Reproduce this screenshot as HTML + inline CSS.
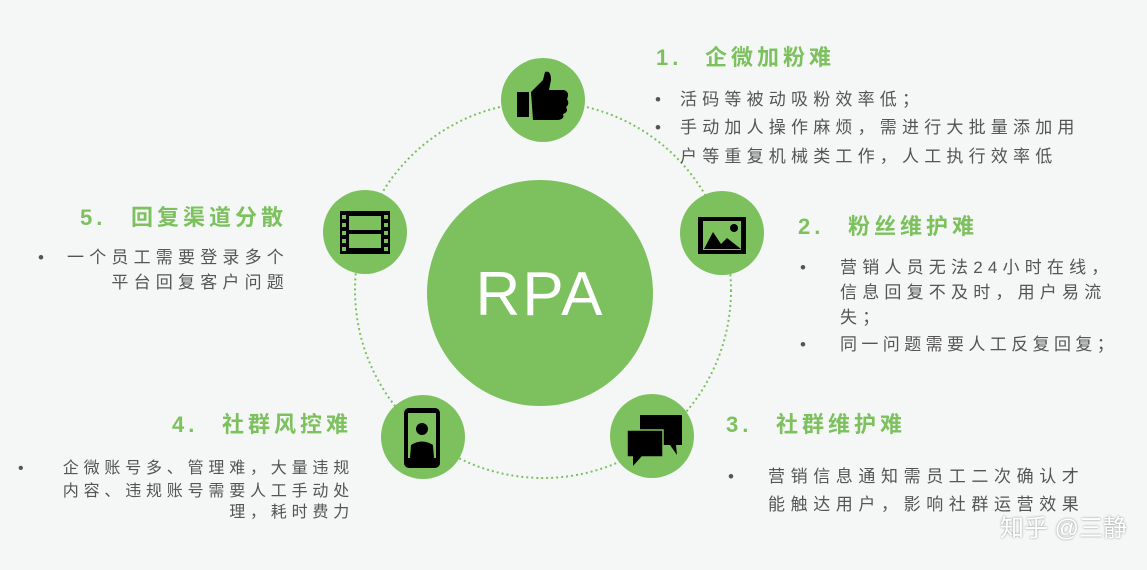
<!DOCTYPE html>
<html><head><meta charset="utf-8"><style>
body{margin:0;width:1147px;height:570px;background:#f5f7f6;position:relative;overflow:hidden;font-family:"Liberation Sans","Noto Sans CJK SC",sans-serif}
.t{position:absolute;white-space:nowrap}
.h{color:#7cc15e;font-weight:bold;font-size:22px;letter-spacing:4px;line-height:26px}
.b{color:#555;font-size:17px;letter-spacing:5.2px;line-height:22px}
.s{font-size:16px;letter-spacing:4.8px}
.w{letter-spacing:5.6px}
</style></head><body>
<svg width="1147" height="570" style="position:absolute;left:0;top:0">
<circle cx="543" cy="290" r="188" fill="none" stroke="#7cc15e" stroke-width="2" stroke-dasharray="2,3"/>
<circle cx="540" cy="293" r="113" fill="#7cc15e"/>
<text x="540" y="315" font-family="Liberation Sans" font-size="62" fill="#fff" text-anchor="middle" letter-spacing="2">RPA</text>
<g fill="#7cc15e"><circle cx="543" cy="100" r="42"/><circle cx="722" cy="233" r="42"/><circle cx="652" cy="436" r="42"/><circle cx="423" cy="437" r="42"/><circle cx="365" cy="232" r="42"/></g>
<rect x="517" y="92" width="12" height="25" fill="#000"/>
<path d="M531 92 L543 80 L545 72 Q551 70 551 80 L549 90 L564 90 Q570 92 567 99 Q570 104 566 107 Q569 112 563 114 Q565 119 558 120 L533 120 Z" fill="#000"/>
<rect x="698" y="217" width="48" height="37" fill="#000"/>
<rect x="703" y="221" width="38" height="29" fill="#7cc15e"/>
<path d="M704 249 L713 232 L721 244 L727 238 L741 249 Z" fill="#000"/>
<circle cx="734" cy="228" r="4" fill="#000"/>
<rect x="640" y="415" width="42" height="30" fill="#000"/>
<path d="M670 445 L677 455 L676 445 Z" fill="#000"/>
<rect x="627" y="430" width="36" height="27" fill="#000" stroke="#7cc15e" stroke-width="1.5"/>
<path d="M633 456 L633 466 L642 456 Z" fill="#000"/>
<rect x="404" y="408" width="36" height="60" rx="5" fill="#000"/>
<rect x="408" y="413" width="28" height="45" fill="#7cc15e"/>
<circle cx="422" cy="429" r="6" fill="#000"/>
<path d="M410 458 L411 445 Q422 438 433 445 L434 458 Z" fill="#000"/>
<rect x="340" y="211" width="50" height="43" fill="#000"/>
<rect x="349" y="216" width="32" height="14" fill="#7cc15e"/>
<rect x="349" y="234" width="32" height="14" fill="#7cc15e"/>
<g fill="#7cc15e"><rect x="342" y="215" width="4" height="4"/><rect x="342" y="223" width="4" height="4"/><rect x="342" y="231" width="4" height="4"/><rect x="342" y="239" width="4" height="4"/><rect x="342" y="247" width="4" height="4"/><rect x="384" y="215" width="4" height="4"/><rect x="384" y="223" width="4" height="4"/><rect x="384" y="231" width="4" height="4"/><rect x="384" y="239" width="4" height="4"/><rect x="384" y="247" width="4" height="4"/></g>
</svg>

<div class="t h" style="left:656px;top:45px">1.</div><div class="t h" style="left:705px;top:45px">企微加粉难</div>
<div class="t b" style="left:655px;top:89px">•</div><div class="t b" style="left:680px;top:89px">活码等被动吸粉效率低；</div>
<div class="t b" style="left:655px;top:117px">•</div><div class="t b" style="left:680px;top:117px">手动加人操作麻烦，需进行大批量添加用</div>
<div class="t b" style="left:680px;top:146px">户等重复机械类工作，人工执行效率低</div>

<div class="t h" style="left:798px;top:214px">2.</div><div class="t h" style="left:848px;top:214px">粉丝维护难</div>
<div class="t b" style="left:800px;top:257px">•</div><div class="t b" style="left:840px;top:257px">营销人员无法24小时在线，</div>
<div class="t b" style="left:840px;top:282px">信息回复不及时，用户易流</div>
<div class="t b" style="left:840px;top:307px">失；</div>
<div class="t b" style="left:800px;top:334px">•</div><div class="t b" style="left:840px;top:334px;letter-spacing:4.4px">同一问题需要人工反复回复；</div>

<div class="t h" style="left:726px;top:412px">3.</div><div class="t h" style="left:776px;top:412px">社群维护难</div>
<div class="t b" style="left:728px;top:466px">•</div><div class="t b w" style="left:768px;top:466px">营销信息通知需员工二次确认才</div>
<div class="t b w" style="left:768px;top:494px">能触达用户，影响社群运营效果</div>

<div class="t h" style="left:172px;top:412px">4.</div><div class="t h" style="left:222px;top:412px">社群风控难</div>
<div class="t b s" style="left:18px;top:458px">•</div>
<div class="t b s" style="right:793px;top:458px">企微账号多、管理难，大量违规</div>
<div class="t b s" style="right:793px;top:481px">内容、违规账号需要人工手动处</div>
<div class="t b s" style="right:793px;top:502px">理，耗时费力</div>

<div class="t h" style="left:80px;top:205px">5.</div><div class="t h" style="left:131px;top:205px">回复渠道分散</div>
<div class="t b" style="left:38px;top:247px">•</div>
<div class="t b" style="right:858px;top:247px">一个员工需要登录多个</div>
<div class="t b" style="right:858px;top:272px">平台回复客户问题</div>

<div class="t" style="left:1000px;top:508px;font-size:24px;color:#fff;text-shadow:0 0 2px #888">知乎 @三静</div>
</body></html>
